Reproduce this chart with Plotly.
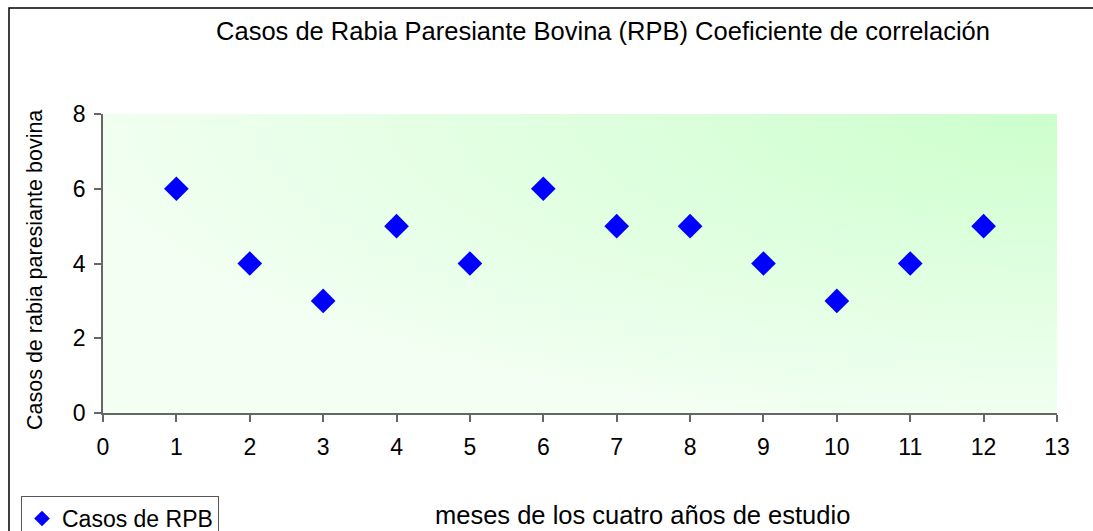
import base64
import plotly.graph_objects as go

meses = [1, 2, 3, 4, 5, 6, 7, 8, 9, 10, 11, 12]
casos = [6, 4, 3, 5, 4, 6, 5, 5, 4, 3, 4, 5]
x_ticks = list(range(0, 14))
y_ticks = [0, 2, 4, 6, 8]

W, H = 1093, 531
L, R, T, B = 103, 36, 114, 118
pw, ph = W - L - R, H - T - B

def px_x(p):
    return (p - L) / pw

def px_y(p):
    return (H - B - p) / ph

svg = ('<svg xmlns="http://www.w3.org/2000/svg" width="100" height="100" preserveAspectRatio="none" viewBox="0 0 100 100">'
       '<defs><radialGradient id="g" cx="1" cy="0" r="1.1" gradientUnits="objectBoundingBox">'
       '<stop offset="0" stop-color="#CCFFCC"/><stop offset="1" stop-color="#F4FFF4"/></radialGradient></defs>'
       '<rect x="0" y="0" width="100" height="100" fill="url(#g)"/></svg>')
src = "data:image/svg+xml;base64," + base64.b64encode(svg.encode()).decode()

font = "Liberation Sans, Arial, sans-serif"

fig = go.Figure()
fig.add_trace(go.Scatter(
    x=meses, y=casos, mode="markers", name="Casos de RPB",
    marker=dict(symbol="diamond", size=19, color="#0000FF", line=dict(width=0)),
))

fig.update_layout(
    width=W, height=H,
    margin=dict(l=L, r=R, t=T, b=B, autoexpand=False),
    paper_bgcolor="white",
    plot_bgcolor="rgba(0,0,0,0)",
    font=dict(family=font, size=22, color="black"),
    title=dict(text="Casos de Rabia Paresiante Bovina (RPB) Coeficiente de correlación",
               x=px_x(603), xref="paper", xanchor="center",
               y=1 - 31 / H, yanchor="middle", font=dict(size=25.5, color="black")),
    showlegend=True,
    legend=dict(x=px_x(21), y=px_y(496), xanchor="left", yanchor="top",
                bgcolor="white", bordercolor="#555555", borderwidth=1,
                font=dict(size=23), itemsizing="constant",
                tracegroupgap=0, itemwidth=30),
    images=[dict(source=src, xref="x domain", yref="y domain", x=0, y=1,
                 sizex=1, sizey=1, xanchor="left", yanchor="top",
                 sizing="stretch", layer="below")],
    shapes=[dict(type="rect", xref="paper", yref="paper",
                 x0=px_x(9), x1=px_x(1110), y0=px_y(560), y1=px_y(8),
                 line=dict(color="black", width=1.5), fillcolor="rgba(0,0,0,0)", layer="below")],
    annotations=[
        dict(text="meses de los cuatro años de estudio", xref="paper", yref="paper",
             x=px_x(642), y=px_y(515), xanchor="center", yanchor="middle",
             showarrow=False, font=dict(size=25.5)),
        dict(text="Casos de rabia paresiante bovina", xref="paper", yref="paper",
             x=px_x(35), y=px_y(270), xanchor="center", yanchor="middle", textangle=-90,
             showarrow=False, font=dict(size=21.5)),
    ],
)

fig.update_xaxes(range=[0, 13], tickvals=x_ticks, showgrid=False, zeroline=False,
                 showline=True, linecolor="#666666", linewidth=1.5,
                 ticks="outside", ticklen=7, tickcolor="#666666", tickwidth=1.5,
                 tickfont=dict(size=23), ticklabelstandoff=6)
fig.update_yaxes(range=[0, 8], tickvals=y_ticks, showgrid=False, zeroline=False,
                 showline=True, linecolor="#666666", linewidth=1.5,
                 ticks="outside", ticklen=7, tickcolor="#666666", tickwidth=1.5,
                 tickfont=dict(size=23), ticklabelstandoff=4)

fig.write_html("out.html", config={"displayModeBar": False},
               post_script="document.body.style.margin='0';")
